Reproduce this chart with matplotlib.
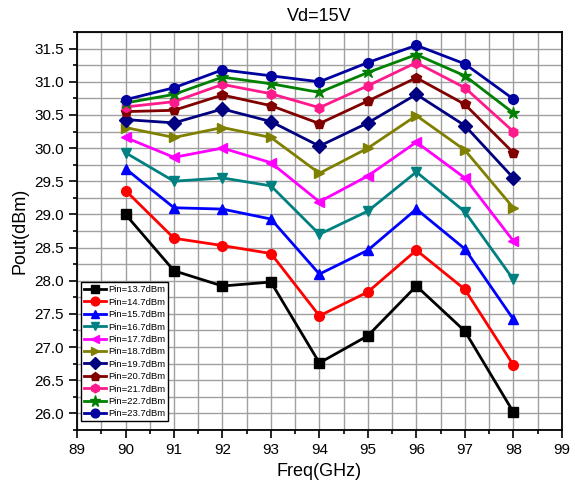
import matplotlib

matplotlib.use("Agg")

import matplotlib.pyplot as plt
import numpy as np
from matplotlib.ticker import MultipleLocator

plt.rcParams["font.family"] = ["Liberation Sans", "DejaVu Sans"]

freq = [90, 91, 92, 93, 94, 95, 96, 97, 98]
pin_labels = ["Pin=13.7dBm", "Pin=14.7dBm", "Pin=15.7dBm", "Pin=16.7dBm",
              "Pin=17.7dBm", "Pin=18.7dBm", "Pin=19.7dBm", "Pin=20.7dBm",
              "Pin=21.7dBm", "Pin=22.7dBm", "Pin=23.7dBm"]

pout_13_7 = [29.00, 28.15, 27.92, 27.98, 26.76, 27.17, 27.92, 27.24, 26.02]
pout_14_7 = [29.36, 28.64, 28.53, 28.41, 27.47, 27.83, 28.46, 27.87, 26.73]
pout_15_7 = [29.69, 29.10, 29.08, 28.93, 28.10, 28.46, 29.08, 28.48, 27.42]
pout_16_7 = [29.93, 29.50, 29.55, 29.43, 28.70, 29.05, 29.64, 29.04, 28.02]
pout_17_7 = [30.16, 29.86, 30.00, 29.78, 29.19, 29.58, 30.09, 29.55, 28.60]
pout_18_7 = [30.31, 30.16, 30.31, 30.16, 29.62, 30.00, 30.49, 29.97, 29.10]
pout_19_7 = [30.43, 30.38, 30.59, 30.40, 30.03, 30.38, 30.81, 30.34, 29.55]
pout_20_7 = [30.55, 30.57, 30.80, 30.64, 30.37, 30.71, 31.06, 30.66, 29.93]
pout_21_7 = [30.62, 30.70, 30.96, 30.82, 30.61, 30.94, 31.29, 30.91, 30.25]
pout_22_7 = [30.68, 30.81, 31.07, 30.97, 30.84, 31.14, 31.41, 31.09, 30.53]
pout_23_7 = [30.73, 30.91, 31.18, 31.09, 31.00, 31.29, 31.55, 31.27, 30.74]

series = [pout_13_7, pout_14_7, pout_15_7, pout_16_7, pout_17_7, pout_18_7,
          pout_19_7, pout_20_7, pout_21_7, pout_22_7, pout_23_7]
colors = ["#000000", "#ff0000", "#0000ff", "#008080", "#ff00ff", "#808000",
          "#000080", "#800000", "#ff1a8c", "#008000", "#0000a0"]
markers = ["s", "o", "^", "v", "<", ">", "D", "p", "h", "*", "o"]

fig = plt.figure(figsize=(5.75, 4.93), dpi=100)
ax = fig.add_axes([0.134, 0.128, 0.843, 0.807])

for vals, lab, c, m in zip(series, pin_labels, colors, markers):
    ms = 9 if m == "*" else 7
    ax.plot(freq, vals, color=c, marker=m, markersize=ms, linewidth=2,
            label=lab, zorder=3)

ax.set_xlim(89, 99)
ax.set_ylim(25.75, 31.75)
ax.xaxis.set_major_locator(MultipleLocator(1))
ax.xaxis.set_minor_locator(MultipleLocator(0.5))
ax.yaxis.set_major_locator(MultipleLocator(0.5))
ax.yaxis.set_minor_locator(MultipleLocator(0.25))
ax.yaxis.set_major_formatter(matplotlib.ticker.FormatStrFormatter("%.1f"))
ax.grid(True, which="both", color="#a0a0a0", linewidth=1.0, zorder=0)
ax.set_axisbelow(True)
ax.tick_params(which="major", direction="out", length=6, width=1.2, labelsize=11,
               top=False, right=False)
ax.tick_params(which="minor", direction="out", length=3, width=1.2,
               top=False, right=False)
for s in ax.spines.values():
    s.set_linewidth(1.3)

ax.set_xlabel("Freq(GHz)", fontsize=13)
ax.set_ylabel("Pout(dBm)", fontsize=13)
ax.set_title("Vd=15V", fontsize=13, pad=8)

leg = ax.legend(loc="lower left", bbox_to_anchor=(0.008, 0.022),
                fontsize=6.8, frameon=True, fancybox=False,
                edgecolor="black", framealpha=1, handlelength=2.4,
                handletextpad=0.15, labelspacing=0.36, borderpad=0.3,
                markerscale=0.9, borderaxespad=0)
leg.get_frame().set_linewidth(1.0)

fig.savefig("out.png", dpi=100)
plt.close(fig)
